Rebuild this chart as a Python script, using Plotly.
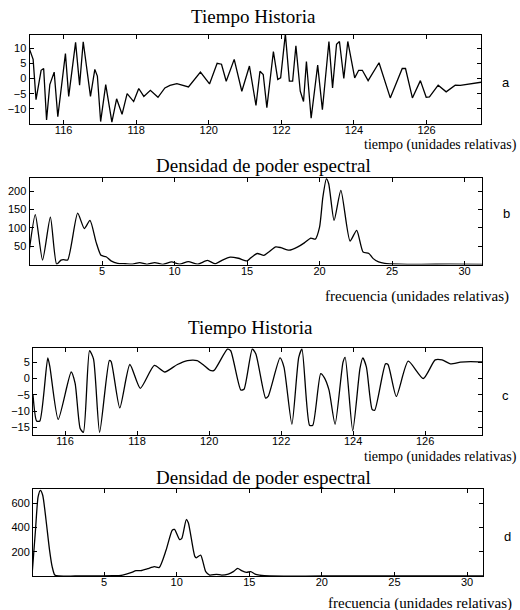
import plotly.graph_objects as go

W, H = 520, 610

# --- (a) time history 1 ---
t_a = [115.05, 115.16, 115.24, 115.38, 115.45, 115.53, 115.62, 115.74, 115.84, 116.05,
       116.14, 116.33, 116.44, 116.54, 116.74, 116.86, 116.93, 117.02, 117.16, 117.33,
       117.46, 117.61, 117.75, 117.93, 118.07, 118.21, 118.39, 118.6, 118.79, 118.93,
       119.12, 119.3, 119.44, 119.77, 120.02, 120.23, 120.35, 120.48, 120.7, 120.91,
       121.12, 121.3, 121.41, 121.5, 121.6, 121.78, 121.9, 121.98, 122.11, 122.22,
       122.31, 122.4, 122.52, 122.61, 122.69, 122.82, 123.0, 123.13, 123.31, 123.41,
       123.52, 123.6, 123.72, 123.83, 123.92, 124.02, 124.13, 124.23, 124.39, 124.69,
       125.0, 125.33, 125.42, 125.61, 125.83, 125.99, 126.08, 126.32, 126.54, 126.79,
       126.93, 127.68]
v_a = [10, 6.3, -7, 2.7, 3.3, -13.7, -2, 2.1, -12.6, 8.2,
       -5.9, 11.9, -2.2, 12.1, -5.9, 3, 0.8, -14.2, -2, -14.4,
       -6.7, -11.8, -5, -7.6, -3.3, -5.9, -3.9, -6.2, -3.1, -2.3,
       -1.7, -2.2, -2.8, 2.1, -1.8, 5, 4.7, -0.9, 6.3, -4.2,
       4.1, -8.9, 2.4, 1.3, -9.6, 8.9, -0.3, 0.2, 14.7, -0.9,
       -0.9, 10.8, -4.2, -7.6, 5.6, -13.1, 4.4, -10.3, 12.2, -3.1,
       11.3, 12.2, 0, 12.2, 6.3, 0.2, 2.7, 2.7, -0.7, 5.2,
       -6.4, 3.3, 3.3, -6.4, -0.7, -6.2, -6.1, -2.2, -4.4, -2.2,
       -2.3, -0.9]

# --- (b) spectral density 1 ---
f_b = [0, 0.4, 0.9, 1.44, 1.87, 2.17, 2.33, 2.63, 3.32, 3.78, 4.17, 4.59, 4.93, 5.28,
       5.62, 6.08, 6.6, 7.1, 7.6, 8.1, 8.63, 9.2, 9.8, 10.35, 10.95, 11.6, 12.27, 12.8,
       13.3, 13.84, 14.4, 15.0, 15.25, 15.7, 16.16, 16.5, 16.98, 17.33, 17.9, 18.5,
       18.95, 19.4, 19.7, 20.0, 20.23, 20.47, 20.63, 21.0, 21.47, 22.1, 22.56, 23.0,
       23.4, 23.7, 24.07, 24.5, 25.5, 27, 29, 31.2]
p_b = [43, 136, 12, 129, 1, 12, 13.5, 12, 140, 98, 120, 61, 25, 21,
       10, 3, 2, 1, 5, 0.5, 5, 0.5, 7, 1, 8, 1, 11, 2,
       12, 20, 17, 10, 18, 30, 25, 34, 48, 46, 39, 48,
       59, 72, 69, 102, 184, 233, 220, 120, 202, 64, 93, 34,
       30, 16, 7, 3, 1, 0.5, 1, 0.5]

# --- (c) time history 2 ---
t_c = [115.11, 115.21, 115.3, 115.52, 115.58, 115.81, 116.17, 116.28, 116.42, 116.51,
       116.68, 116.79, 116.96, 117.23, 117.28, 117.52, 117.8, 118.09, 118.48, 118.77,
       119.12, 119.4, 119.67, 119.86, 120.03, 120.14, 120.51, 120.6, 120.88, 120.97,
       121.2, 121.3, 121.57, 121.64, 121.97, 122.08, 122.3, 122.49, 122.58, 122.79,
       122.88, 123.1, 123.2, 123.33, 123.5, 123.72, 123.78, 123.99, 124.19, 124.27,
       124.37, 124.53, 124.6, 124.9, 124.97, 125.2, 125.53, 125.95, 126.28, 126.47,
       126.7, 126.98, 127.26, 127.69]
v_c = [-5, -13, -13, 6.3, 3.5, -12.5, 2, -1.5, -15.3, -16.5,
       8.5, 6, -16.5, 5.5, 5.2, -9, 4.3, -3, 4, 2,
       4.3, 5.5, 5.5, 4, 2.5, 2.5, 9, 8.5, -3.5, -3.3,
       9, 7.5, -6, -5.5, 6.3, 3.5, -14, 6.5, 9, -14.3,
       -14.3, 1.5, 0.3, -3.5, -14, 5, 6.5, -16, 3, 6.3,
       3.5, -9.5, -9.7, 4.5, 4.3, -5.5, 5.3, 0, 5.7, 5.7,
       4.5, 5, 5.2, 5]

# --- (d) spectral density 2 ---
f_d = [0.03, 0.27, 0.45, 0.61, 0.77, 1.0, 1.24, 1.42, 1.6, 1.88, 3, 5.6, 6.27, 6.85,
       7.2, 7.54, 8.0, 8.46, 8.8, 9.27, 9.69, 9.85, 10.2, 10.35, 10.66, 10.8, 11.24,
       11.35, 11.65, 12.0, 12.27, 12.74, 13.1, 13.55, 13.9, 14.2, 14.47, 14.8, 15.1,
       15.4, 15.7, 16.4, 20, 31.2]
p_d = [0, 378, 652, 707, 666, 460, 214, 77, 8, 0, 0, 2, 8, 27,
       44, 44, 60, 77, 71, 214, 378, 384, 301, 310, 466, 440, 164,
       150, 173, 36, 8, 14, 8, 16, 36, 63, 44, 30, 36,
       16, 8, 0, 0, 0]

tick_time = [116, 118, 120, 122, 124, 126]
tick_freq = [5, 10, 15, 20, 25, 30]
ytick_a = [-10, -5, 0, 5, 10]
ytick_b = [50, 100, 150, 200]
ytick_c = [-15, -10, -5, 0, 5]
ytick_d = [200, 400, 600]

# panel boxes in pixels: left, right, top, bottom
boxes = [(29.5, 481, 34.5, 124), (29.5, 482, 177.5, 264.5),
         (33, 482, 347.5, 435), (33, 483, 488.5, 576)]
xranges = [[115.06, 127.5], [0, 31.2], [115.11, 127.58], [0.1, 31.1]]
yranges = [[-15, 14.5], [0, 237], [-17.3, 9.5], [0, 722]]
xticks = [tick_time, tick_freq, tick_time, tick_freq]
yticks = [ytick_a, ytick_b, ytick_c, ytick_d]
series = [(t_a, v_a, "linear"), (f_b, p_b, "spline"),
          (t_c, v_c, "spline"), (f_d, p_d, "spline")]

fig = go.Figure()
layout = dict(width=W, height=H, margin=dict(l=0, r=0, t=0, b=0),
              paper_bgcolor="white", plot_bgcolor="white", showlegend=False)

tick_font = dict(family="Liberation Sans, Arial, sans-serif", size=11, color="black")
for i, ((l, r, t, b), (xs, ys, shp)) in enumerate(zip(boxes, series)):
    n = "" if i == 0 else str(i + 1)
    line = dict(color="black", width=1.3, shape=shp)
    if shp == "spline":
        line["smoothing"] = 0.6
    fig.add_trace(go.Scatter(x=xs, y=ys, mode="lines", line=line,
                             xaxis="x" + n, yaxis="y" + n, hoverinfo="skip"))
    common = dict(showline=True, linecolor="black", linewidth=1, mirror="ticks",
                  ticks="inside", ticklen=4, tickcolor="black", tickwidth=1,
                  showgrid=False, zeroline=False, tickfont=tick_font)
    layout["xaxis" + n] = dict(common, domain=[l / W, r / W], range=xranges[i],
                               tickvals=xticks[i], anchor="y" + n,
                               ticklabelstandoff=-4)
    layout["yaxis" + n] = dict(common, domain=[1 - b / H, 1 - t / H], range=yranges[i],
                               tickvals=yticks[i], anchor="x" + n)

serif = "Liberation Serif, Times New Roman, serif"
sans = "Liberation Sans, Arial, sans-serif"
ann = []
def text(s, x, y, size, family, xanchor="center"):
    ann.append(dict(text=s, x=x / W, y=1 - y / H, xref="paper", yref="paper",
                    xanchor=xanchor, yanchor="middle", showarrow=False,
                    font=dict(family=family, size=size, color="black")))

text("Tiempo Historia", 253, 17, 19, serif)
text("Densidad de poder espectral", 263, 166, 19, serif)
text("Tiempo Historia", 250, 327, 19, serif)
text("Densidad de poder espectral", 263, 477, 19, serif)
text("tiempo (unidades relativas)", 519, 145, 14, serif, "right")
text("frecuencia (unidades relativas)", 511, 296, 15, serif, "right")
text("tiempo (unidades relativas)", 519, 457, 14, serif, "right")
text("frecuencia (unidades relativas)", 514, 603, 15, serif, "right")
text("a", 506, 82, 13, sans)
text("b", 506, 213, 13, sans)
text("c", 505, 395, 13, sans)
text("d", 507, 536, 13, sans)
layout["annotations"] = ann

fig.update_layout(**layout)
fig.write_html("out.html")
